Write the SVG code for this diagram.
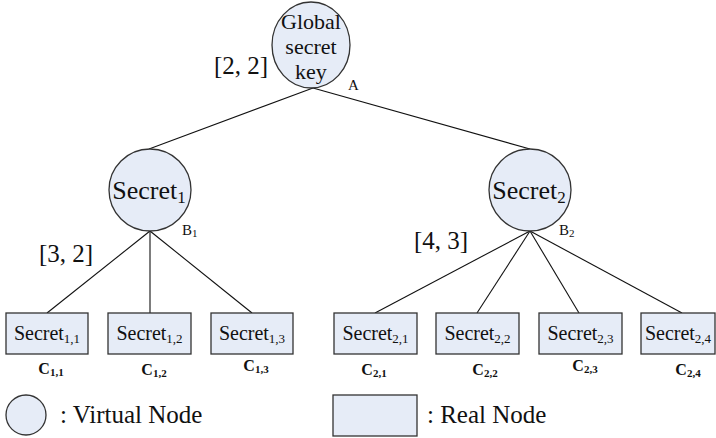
<svg xmlns="http://www.w3.org/2000/svg" width="716" height="438" viewBox="0 0 716 438">
<style>
.n{fill:#e6ecf7;stroke:#333;stroke-width:1.3}
.c{stroke:#111;stroke-width:1.1;fill:none}
text{font-family:Tinos,"Liberation Serif","Times New Roman",Times,"Noto Serif","DejaVu Serif",FreeSerif,serif;fill:#111}
.big{font-size:26px;text-anchor:middle}
.box{font-size:20px;text-anchor:middle}
.lab{font-size:15px}
.cl{font-size:16px;font-weight:bold;text-anchor:middle}
.th{font-size:25px}
</style>
<rect width="716" height="438" fill="#fff"/>
<g id="connectors">
<line class="c" x1="313" y1="88" x2="149" y2="149"/>
<line class="c" x1="313" y1="88" x2="530" y2="149"/>
<line class="c" x1="150" y1="231" x2="47" y2="313"/>
<line class="c" x1="150" y1="231" x2="150" y2="313"/>
<line class="c" x1="150" y1="231" x2="252" y2="313"/>
<line class="c" x1="530" y1="231" x2="375" y2="313"/>
<line class="c" x1="530" y1="231" x2="477" y2="313"/>
<line class="c" x1="530" y1="231" x2="579" y2="313"/>
<line class="c" x1="530" y1="231" x2="682" y2="313"/>
</g>
<g id="nodeA">
<ellipse class="n" cx="311" cy="45" rx="39" ry="43"/>
<text class="big" style="font-size:22px" x="311" y="29">Global</text>
<text class="big" style="font-size:22px" x="311" y="54">secret</text>
<text class="big" style="font-size:22px" x="311" y="79">key</text>
<text class="lab" x="348" y="90">A</text>
</g>
<text class="th" x="214" y="74">[2, 2]</text>
<g id="nodeB1">
<circle class="n" cx="150" cy="190" r="41"/>
<text class="big" x="149" y="199">Secret<tspan font-size="17" dy="4">1</tspan></text>
<text class="lab" x="182" y="235">B<tspan font-size="11" dy="2">1</tspan></text>
</g>
<text class="th" x="39" y="262">[3, 2]</text>
<g id="nodeB2">
<circle class="n" cx="530" cy="190" r="41"/>
<text class="big" x="529" y="199">Secret<tspan font-size="17" dy="4">2</tspan></text>
<text class="lab" x="559" y="235">B<tspan font-size="11" dy="2">2</tspan></text>
</g>
<text class="th" x="414" y="249">[4, 3]</text>
<g id="nodeC11">
<rect class="n" x="6" y="313" width="82" height="41"/>
<text class="box" x="47" y="340">Secret<tspan font-size="13" dy="3">1,1</tspan></text>
<text class="cl" x="51" y="374">C<tspan font-size="11" dy="2">1,1</tspan></text>
</g>
<g id="nodeC12">
<rect class="n" x="108" y="313" width="83" height="41"/>
<text class="box" x="149.5" y="340">Secret<tspan font-size="13" dy="3">1,2</tspan></text>
<text class="cl" x="154" y="375">C<tspan font-size="11" dy="2">1,2</tspan></text>
</g>
<g id="nodeC13">
<rect class="n" x="211" y="313" width="82" height="41"/>
<text class="box" x="252" y="340">Secret<tspan font-size="13" dy="3">1,3</tspan></text>
<text class="cl" x="256" y="371">C<tspan font-size="11" dy="2">1,3</tspan></text>
</g>
<g id="nodeC21">
<rect class="n" x="334" y="313" width="83" height="41"/>
<text class="box" x="375.5" y="340">Secret<tspan font-size="13" dy="3">2,1</tspan></text>
<text class="cl" x="374" y="375">C<tspan font-size="11" dy="2">2,1</tspan></text>
</g>
<g id="nodeC22">
<rect class="n" x="436" y="313" width="83" height="41"/>
<text class="box" x="477.5" y="340">Secret<tspan font-size="13" dy="3">2,2</tspan></text>
<text class="cl" x="485" y="375">C<tspan font-size="11" dy="2">2,2</tspan></text>
</g>
<g id="nodeC23">
<rect class="n" x="539" y="313" width="83" height="41"/>
<text class="box" x="580.5" y="340">Secret<tspan font-size="13" dy="3">2,3</tspan></text>
<text class="cl" x="585" y="371">C<tspan font-size="11" dy="2">2,3</tspan></text>
</g>
<g id="nodeC24">
<rect class="n" x="641" y="313" width="74" height="41"/>
<text class="box" x="678" y="340">Secret<tspan font-size="13" dy="3">2,4</tspan></text>
<text class="cl" x="688" y="375">C<tspan font-size="11" dy="2">2,4</tspan></text>
</g>
<g id="legend">
<circle class="n" cx="26" cy="415" r="20"/>
<text class="th" x="60" y="423">: Virtual Node</text>
<rect class="n" x="333" y="395" width="84" height="41"/>
<text class="th" x="427" y="423">: Real Node</text>
</g>
</svg>
